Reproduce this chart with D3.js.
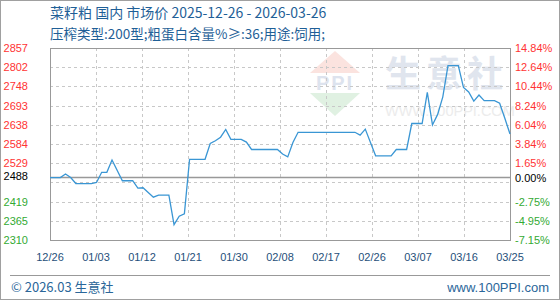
<!DOCTYPE html>
<html lang="zh">
<head>
<meta charset="utf-8">
<title>菜籽粕 国内 市场价</title>
<script src="https://d3js.org/d3.v7.min.js"></script>
<style>
  html, body { margin: 0; padding: 0; background: #fff; }
  svg { display: block; }
  text { font-family: "Liberation Sans", Arial, sans-serif; }
  .cjk { font-family: "Noto Sans CJK SC", sans-serif; }
</style>
</head>
<body>
<script>
// price series (vertices of the line)
var dates = ["2025-12-26","2025-12-28","2025-12-29","2025-12-30","2025-12-31","2026-01-03",
  "2026-01-04","2026-01-05","2026-01-06","2026-01-07","2026-01-09","2026-01-11","2026-01-12",
  "2026-01-13","2026-01-15","2026-01-16","2026-01-18","2026-01-19","2026-01-20","2026-01-21",
  "2026-01-22","2026-01-25","2026-01-26","2026-01-27","2026-01-28","2026-01-29","2026-01-30",
  "2026-02-01","2026-02-02","2026-02-03","2026-02-08","2026-02-09","2026-02-10","2026-02-11",
  "2026-02-12","2026-02-23","2026-02-24","2026-02-25","2026-02-27","2026-03-02","2026-03-03",
  "2026-03-05","2026-03-06","2026-03-08","2026-03-09","2026-03-10","2026-03-11","2026-03-12",
  "2026-03-13","2026-03-15","2026-03-16","2026-03-17","2026-03-18","2026-03-19","2026-03-20",
  "2026-03-22","2026-03-23","2026-03-24","2026-03-25"];
var prices = [2488,2488,2498,2488,2471,2471,
  2474,2503,2503,2538,2479,2479,2458,
  2459,2432,2438,2438,2354,2378,2385,
  2540,2540,2585,2593,2603,2625,2597,
  2597,2589,2568,2568,2555,2547,2588,
  2617,2617,2609,2626,2550,2550,2568,
  2568,2642,2642,2731,2638,2668,2718,
  2807,2807,2745,2732,2706,2723,2707,
  2707,2700,2657,2612];

var basePrice = 2488;
var yTicks = [2310.1,2364.8,2419.5,2474.2,2528.9,2583.6,2638.3,2693.0,2747.7,2802.4,2857.2];
var leftLabels = ["2310","2365","2419","","2529","2584","2638","2693","2748","2802","2857"];
var rightLabels = ["-7.15%","-4.95%","-2.75%","","1.65%","3.84%","6.04%","8.24%","10.44%","12.64%","14.84%"];
var xTickLabels = ["12/26","01/03","01/12","01/21","01/30","02/08","02/17","02/26","03/07","03/16","03/25"];

var W = 560, H = 300;
var plot = { left: 50, right: 510, top: 48, bottom: 240 };

var svg = d3.select("body").append("svg")
    .attr("width", W)
    .attr("height", H);

// outer frame
svg.append("rect")
    .attr("x", 0.5).attr("y", 0.5)
    .attr("width", W - 1).attr("height", H - 1)
    .attr("fill", "#fff").attr("stroke", "#a0a0a0");

var parseDate = d3.timeParse("%Y-%m-%d");
var data = dates.map(function(d, i) { return { date: parseDate(d), price: prices[i] }; });

var x = d3.scaleTime()
    .domain([parseDate("2025-12-26"), parseDate("2026-03-25")])
    .range([plot.left, plot.right]);

var xLab = d3.scalePoint()
    .domain(xTickLabels)
    .range([plot.left, plot.right]);

var y = d3.scaleLinear()
    .domain([yTicks[0], yTicks[yTicks.length - 1]])
    .range([plot.bottom, plot.top]);

// watermark
var wm = svg.append("g");
wm.append("path").attr("d", "M335,51 L310,73 L360,73 Z").attr("fill", "#fbe3df");
wm.append("path").attr("d", "M310,93 L360,93 L335,116 Z").attr("fill", "#e0f1e2");
wm.append("text").attr("x", 335).attr("y", 90).attr("text-anchor", "middle")
    .attr("font-family", "Liberation Serif, serif").attr("font-size", 20).attr("font-weight", "bold")
    .attr("fill", "#dde3ee").attr("letter-spacing", 2).text("PPI");
wm.append("text").attr("class", "cjk").attr("x", 385).attr("y", 87)
    .attr("font-size", 36).attr("font-weight", "bold").attr("letter-spacing", 5)
    .attr("fill", "#e0e5ee").text("生意社");
wm.append("text").attr("x", 385).attr("y", 116)
    .attr("font-size", 14.5).attr("fill", "#ececec").text("WWW.100PPI.COM");

// grid
var grid = svg.append("g")
    .attr("stroke", "#c8c8c8").attr("stroke-dasharray", "3,3").attr("fill", "none");
grid.selectAll(".hg").data(yTicks.slice(1, -1)).enter().append("line")
    .attr("x1", plot.left).attr("x2", plot.right)
    .attr("y1", function(d) { return Math.round(y(d)) + 0.5; })
    .attr("y2", function(d) { return Math.round(y(d)) + 0.5; });
grid.selectAll(".vg").data(xTickLabels.slice(1, -1)).enter().append("line")
    .attr("y1", plot.top).attr("y2", plot.bottom)
    .attr("x1", function(d) { return Math.round(xLab(d)) + 0.5; })
    .attr("x2", function(d) { return Math.round(xLab(d)) + 0.5; });

// plot frame
svg.append("rect")
    .attr("x", plot.left + 0.5).attr("y", plot.top + 0.5)
    .attr("width", plot.right - plot.left).attr("height", plot.bottom - plot.top)
    .attr("fill", "none").attr("stroke", "#999");

// base line (0%)
svg.append("line")
    .attr("x1", plot.left).attr("x2", plot.right)
    .attr("y1", y(basePrice)).attr("y2", y(basePrice))
    .attr("stroke", "#999").attr("stroke-width", 1.6);

// price line
var line = d3.line()
    .x(function(d) { return x(d.date); })
    .y(function(d) { return y(d.price); });

svg.append("path")
    .datum(data)
    .attr("d", line)
    .attr("fill", "none")
    .attr("stroke", "#3a96d4")
    .attr("stroke-width", 1.3);

// y labels
function tickColor(v) { return v > basePrice ? "#ff3333" : "#33aa33"; }

svg.selectAll(".ly").data(yTicks).enter().append("text")
    .attr("x", 28).attr("y", function(d) { return y(d) + 4; })
    .attr("text-anchor", "end").attr("font-size", 11)
    .attr("fill", tickColor)
    .text(function(d, i) { return leftLabels[i]; });

svg.selectAll(".ry").data(yTicks).enter().append("text")
    .attr("x", 515).attr("y", function(d) { return y(d) + 4; })
    .attr("font-size", 11)
    .attr("fill", tickColor)
    .text(function(d, i) { return rightLabels[i]; });

svg.append("text")
    .attr("x", 28).attr("y", y(basePrice) + 2)
    .attr("text-anchor", "end").attr("font-size", 11).attr("fill", "#000")
    .text(String(basePrice));
svg.append("text")
    .attr("x", 515).attr("y", y(basePrice) + 4)
    .attr("font-size", 11).attr("fill", "#000")
    .text("0.00%");

// x labels
svg.selectAll(".xl").data(xTickLabels).enter().append("text")
    .attr("x", function(d) { return xLab(d); })
    .attr("y", 261)
    .attr("text-anchor", "middle").attr("font-size", 11).attr("fill", "#1f4f7a")
    .text(function(d) { return d; });

// title
svg.append("text").attr("class", "cjk")
    .attr("x", 50).attr("y", 18).attr("font-size", 14).attr("fill", "#1f5f97")
    .text("菜籽粕 国内 市场价 2025-12-26 - 2026-03-26");
svg.append("text").attr("class", "cjk")
    .attr("x", 50).attr("y", 39).attr("font-size", 13.5).attr("fill", "#1f5f97")
    .text("压榨类型:200型;粗蛋白含量%≥:36;用途:饲用;");

// footer
svg.append("line")
    .attr("x1", 10).attr("x2", 550).attr("y1", 275.5).attr("y2", 275.5)
    .attr("stroke", "#999");
svg.append("text").attr("class", "cjk")
    .attr("x", 11).attr("y", 292).attr("font-size", 13).attr("fill", "#2a6699")
    .text("© 2026.03 生意社");
svg.append("text")
    .attr("x", 549).attr("y", 292).attr("text-anchor", "end")
    .attr("font-size", 13).attr("fill", "#2a6699")
    .text("www.100PPI.com");
</script>
</body>
</html>
